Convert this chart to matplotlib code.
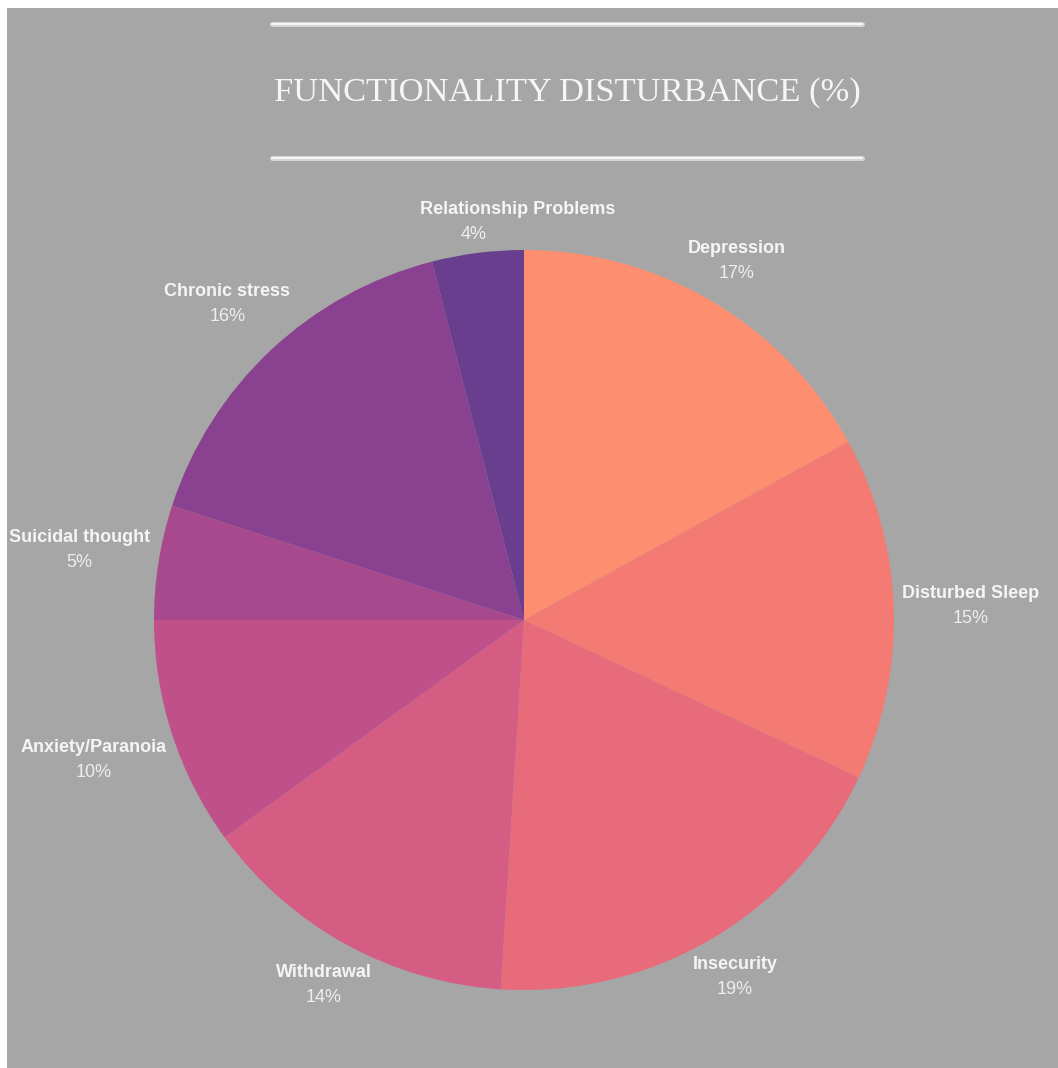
import matplotlib
matplotlib.use('Agg')
import matplotlib.pyplot as plt
import numpy as np

# functionality disturbance shares, clockwise from the top
categories = ['Depression', 'Disturbed Sleep', 'Insecurity', 'Withdrawal',
              'Anxiety/Paranoia', 'Suicidal thought', 'Chronic stress',
              'Relationship Problems']
values = [17, 15, 19, 14, 10, 5, 16, 4]
colors = ['#fd8f70', '#f47b74', '#e76b7a', '#d55d84',
          '#c0508a', '#a8498e', '#8a4290', '#6a3e8f']
title = 'FUNCTIONALITY DISTURBANCE (%)'

W, H = 1058, 1068
BG = '#a6a6a6'

def py(y):
    # pixel row (from the top) -> data y
    return H - y

fig = plt.figure(figsize=(W / 100, H / 100), dpi=100, facecolor='white')
ax = fig.add_axes([0, 0, 1, 1])
ax.set_xlim(0, W)
ax.set_ylim(0, H)
ax.axis('off')

# grey panel, leaving a thin white strip at the left and top
ax.add_patch(plt.Rectangle((7, 0), W - 7, H - 8, facecolor=BG, edgecolor='none', zorder=0))

# title between two rules
for yy in (24, 158):
    ax.plot([272, 862], [py(yy), py(yy)], color='#d4d4d4', lw=3.6, solid_capstyle='round', zorder=2)
    ax.plot([272, 862], [py(yy), py(yy)], color='#f4f4f4', lw=1.6, solid_capstyle='round', zorder=3)
ax.text(567, py(93), title, color='#f6f6f6', fontsize=24.8, family='Liberation Serif',
        ha='center', va='center', zorder=3)

cx, cy, R = 524, py(620), 370
wedges, _ = ax.pie(values, colors=colors, startangle=90, counterclock=False,
                   center=(cx, cy), radius=R, wedgeprops=dict(linewidth=0))
ax.set_xlim(0, W)
ax.set_ylim(0, H)
ax.set_aspect('auto')

renderer = fig.canvas.get_renderer()
wrapped = {'Relationship Problems'}  # percent sits under the first word only
gap = 12.5
fs = 13
for w, name, v in zip(wedges, categories, values):
    th = np.deg2rad((w.theta1 + w.theta2) / 2)
    c, s = np.cos(th), np.sin(th)
    t1 = ax.text(0, 0, name, color='#f5f5f5', fontsize=fs, fontweight='bold',
                 family='Liberation Sans', ha='center', va='center', zorder=4)
    t2 = ax.text(0, 0, f'{v}%', color='#eeeeee', fontsize=fs,
                 family='Liberation Sans', ha='center', va='center', zorder=4)
    lead = name.split()[0] if name in wrapped else name
    probe = ax.text(0, 0, lead, fontsize=fs, fontweight='bold', family='Liberation Sans')
    bw = probe.get_window_extent(renderer).width
    probe.remove()
    # label block centre sits outside the rim, clear of its own half width/height
    d = R + 8 + abs(c) * bw / 2 + abs(s) * 17
    x = cx + d * c
    y = cy + d * s
    if name in wrapped:
        t1.set_ha('left')
        t1.set_position((x - bw / 2, y + gap))
    else:
        t1.set_position((x, y + gap))
    t2.set_position((x, y - gap))

fig.savefig('out.png', dpi=100, facecolor='white')
